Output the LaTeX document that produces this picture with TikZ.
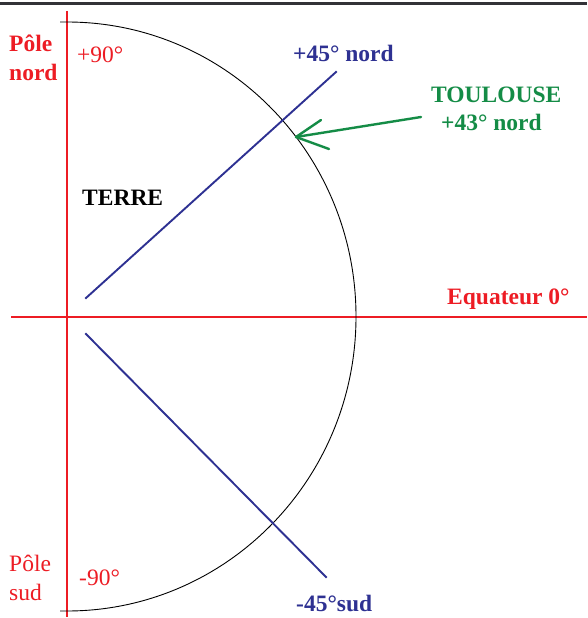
\documentclass[tikz,border=0pt]{standalone}
\usepackage{fontspec}
\setmainfont{Liberation Serif}
\definecolor{axisred}{RGB}{237,28,36}
\definecolor{navy}{RGB}{46,49,146}
\definecolor{tgreen}{RGB}{20,140,70}
\definecolor{framegray}{RGB}{50,50,55}
\newcommand{\lblfont}{\fontsize{23.5}{26}\selectfont}
\begin{document}
\begin{tikzpicture}[x=1pt,y=-1pt,
  axis/.style={draw=axisred,line width=2.8pt},
  lat/.style={draw=navy,line width=1.9pt,line cap=rect},
  earth/.style={draw=black,line width=0.9pt},
  lbl/.style={inner sep=0pt,anchor=base west,font=\lblfont},
  redlbl/.style={lbl,text=axisred},
  redbold/.style={lbl,text=axisred,font=\lblfont\bfseries},
  bluelbl/.style={lbl,text=navy,font=\lblfont\bfseries},
  greenlbl/.style={lbl,text=tgreen,font=\lblfont\bfseries},
  arrowline/.style={draw=tgreen,line width=2.4pt,line cap=round,line join=round}]
\useasboundingbox (0,0) rectangle (587,618);
\fill[white] (0,0) rectangle (587,618);
% frame line
\draw[framegray,line width=2.2pt] (0,3.6) -- (587,3.6);
% axes
\coordinate (vtop) at (67,11);
\coordinate (vbot) at (67,617);
\coordinate (hleft) at (11,317);
\coordinate (hright) at (587,317);
\draw[axis] (vtop) -- (vbot);
\draw[axis] (hleft) -- (hright);
% earth half circle
\coordinate (etop) at (60,22);
\coordinate (ebot) at (60,611);
\draw[earth] (etop) -- (67,22) arc[start angle=-90,end angle=90,x radius=289,y radius=294.5] -- (ebot);
% latitude lines
\coordinate (n0) at (86,298);
\coordinate (n1) at (336,72);
\coordinate (s0) at (86,334);
\coordinate (s1) at (326,577);
\draw[lat] (n0) -- (n1);
\draw[lat] (s0) -- (s1);
% labels
\node[redbold] (polenord1) at (9,52) {Pôle};
\node[redbold] (polenord2) at (9,80) {nord};
\node[redlbl] (p90) at (77,63) {+90°};
\node[lbl,font=\lblfont\bfseries] (terre) at (82,205) {TERRE};
\node[bluelbl] (p45) at (293,61) {+45° nord};
\node[greenlbl] (toulouse) at (431,102) {TOULOUSE};
\node[greenlbl] (p43) at (441,130) {+43° nord};
\node[redbold] (equateur) at (447,304) {Equateur 0°};
\node[redlbl] (polesud1) at (9,571) {Pôle};
\node[redlbl] (polesud2) at (9,600) {sud};
\node[redlbl] (m90) at (79,585) {-90°};
\node[bluelbl] (m45) at (296,611) {-45°sud};
% arrow to Toulouse
\coordinate (tail) at (421,117);
\coordinate (tip) at (296,137);
\coordinate (barbA) at (321,120);
\coordinate (barbB) at (329,149);
\draw[arrowline] (tail) -- (tip);
\draw[arrowline] (barbA) -- (tip) -- (barbB);
\end{tikzpicture}
\end{document}
